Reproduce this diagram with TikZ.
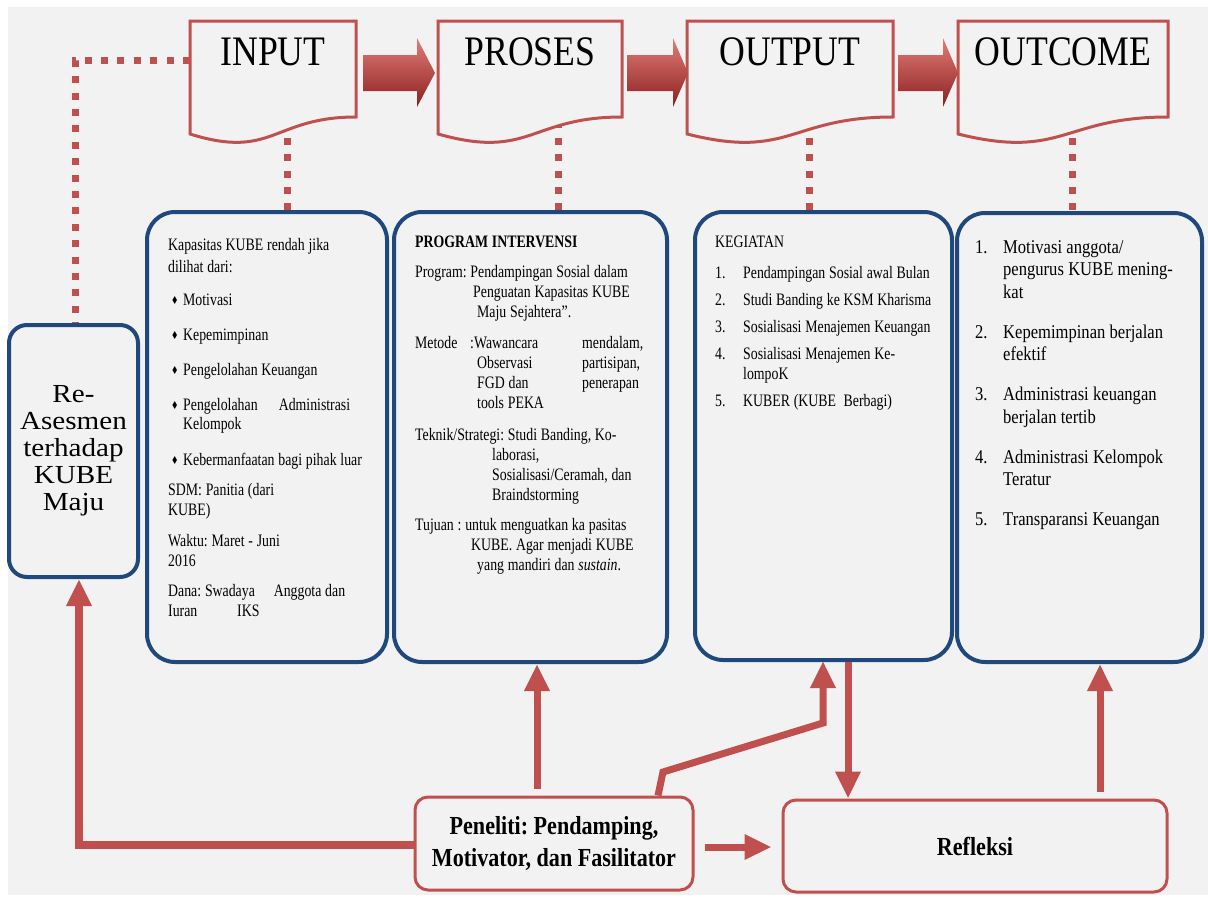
\documentclass[tikz,border=0pt]{standalone}
\usepackage{fontspec}
\setmainfont{Liberation Serif}
\newfontfamily\bodyfont{Liberation Serif}[FakeStretch=0.79]
\newfontfamily\listfont{Liberation Serif}[FakeStretch=0.85]
\newfontfamily\headfont{Liberation Serif}[FakeStretch=0.85]
\newfontfamily\sidefont{Liberation Serif}[FakeStretch=1.12]
\newfontfamily\symfont{DejaVu Sans}
\usetikzlibrary{arrows.meta,calc}

\definecolor{bgcol}{RGB}{242,242,242}
\definecolor{redline}{RGB}{192,80,77}
\definecolor{navy}{RGB}{31,73,125}
\definecolor{arrtop}{RGB}{224,125,120}
\definecolor{arrmid}{RGB}{196,66,60}
\definecolor{arrbot}{RGB}{140,32,30}

% diamond bullet with its hanging indent
\newcommand\bul{\makebox[15pt][l]{\hspace{3pt}\raisebox{0.5pt}{\scalebox{0.75}[1]{\symfont\fontsize{11}{11}\selectfont ♦}}}}
% a line stretched to a fixed width
\newcommand\spreadline[2]{\leavevmode\hbox to #1{#2}}
% narrower word spaces for the condensed faces
\newcommand\tightsp[1]{\frenchspacing\spaceskip=#1 plus 1pt minus 0.5pt\relax}

% document-shaped header: name, left x, right x, top y, label
\newcommand\docshape[5]{%
  \path[docline] (#2,#4) -- (#3,#4) -- (#3,{#4+96})
    .. controls ({(#2+#3)/2},{#4+96}) and ({(#2+#3)/2},{#4+139}) .. (#2,{#4+113}) -- cycle;
  \node[headtxt] (#1) at ({(#2+#3)/2},{#4+44}) {#5};}

% shaded block arrow: shaft left x, head base x, tip x
\newcommand\blockarrow[3]{%
  \shade[top color=arrtop, middle color=arrmid, bottom color=arrbot]
    (#1,55) -- (#2,55) -- (#2,38) -- (#3,73) -- (#2,107) -- (#2,91) -- (#1,91) -- cycle;}

\tikzset{
  docline/.style={draw=redline, line width=3pt, fill=bgcol, line join=miter},
  bluebox/.style={draw=navy, line width=4pt, fill=bgcol, rounded corners=28pt, inner sep=0pt},
  redbox/.style={draw=redline, line width=3pt, fill=bgcol, rounded corners=13pt, inner sep=0pt,
    align=center, font=\listfont\bfseries\fontsize{26}{32}\selectfont},
  dotline/.style={draw=redline, line width=7pt, dash pattern=on 7pt off 9.4pt},
  flow/.style={draw=redline, line width=7pt, line join=miter, -{Triangle[width=24pt,length=27pt]}},
  headtxt/.style={font=\headfont\fontsize{42}{42}\selectfont, anchor=base, inner sep=0pt},
  bodytxt/.style={anchor=base west, inner sep=0pt, text width=#1, align=left},
}

\begin{document}
\begin{tikzpicture}[x=1pt,y=-1pt]
\useasboundingbox (0,0) rectangle (1208,902);
\fill[white] (0,0) rectangle (1208,902);
\fill[bgcol] (8,7) rectangle (1208,895);

% content boxes
\node[bluebox, minimum width=240, minimum height=450] (b1) at (267,437) {};
\node[bluebox, minimum width=273, minimum height=450] (b2) at (530.5,437) {};
\node[bluebox, minimum width=257, minimum height=448] (b3) at (823.5,436) {};
\node[bluebox, minimum width=245, minimum height=449] (b4) at (1079.5,437.5) {};
\node[bluebox, rounded corners=18pt, minimum width=129, minimum height=252, align=center,
      font=\sidefont\fontsize{26}{27}\selectfont] (re) at (73.5,451)
      {Re-\\Asesmen\\terhadap\\KUBE\\Maju};

% dotted links from the headers down to the boxes
\coordinate (din) at (287,105);
\coordinate (dpr) at (558,105);
\coordinate (dou) at (809,105);
\coordinate (doc) at (1072,105);
\coordinate (dl) at (75,60);
\coordinate (dh) at (190,60);
\draw[dotline] (din) -- (din |- b1.north);
\draw[dotline] (dpr) -- (dpr |- b2.north);
\draw[dotline] (dou) -- (dou |- b3.north);
\draw[dotline] (doc) -- (doc |- b4.north);
\draw[dotline] (dh) -- (dl) -- (dl |- re.north);

% headers
\docshape{hin}{190}{356}{21}{INPUT}
\docshape{hpr}{438}{622}{21}{PROSES}
\docshape{hou}{687}{893}{21}{OUTPUT}
\docshape{hoc}{958}{1168}{21}{OUTCOME}

\blockarrow{363}{417}{435}
\blockarrow{627}{673}{688}
\blockarrow{898}{943}{958}

% INPUT box text
\node[bodytxt=230pt, font=\bodyfont\fontsize{17.5}{19.5}\selectfont] (t1) at (168,250) {%
\tightsp{3.8pt}Kapasitas KUBE rendah jika\\[2.5pt]
dilihat dari:\\[13.5pt]
\bul Motivasi\\[15.5pt]
\bul Kepemimpinan\\[15.5pt]
\bul Pengelolahan Keuangan\\[15.5pt]
\spreadline{182pt}{\bul Pengelolahan\hfill Administrasi}\\
\hspace*{15pt}Kelompok\\[16pt]
\bul Kebermanfaatan bagi pihak luar\\[11pt]
SDM: Panitia (dari\\
KUBE)\\[12pt]
Waktu: Maret - Juni\\
2016\\[11pt]
\spreadline{177pt}{Dana: Swadaya\hfill Anggota dan}\\
\makebox[69pt][l]{Iuran}IKS};

% PROSES box text
\node[bodytxt=250pt, font=\bodyfont\fontsize{17.5}{20}\selectfont] (t2) at (415,247) {%
\tightsp{3.8pt}\textbf{PROGRAM INTERVENSI}\\[10pt]
Program: Pendampingan Sosial dalam\\
\hspace*{58pt}Penguatan Kapasitas KUBE\\
\hspace*{62pt}Maju Sejahtera”.\\[11pt]
\makebox[55pt][l]{Metode}\makebox[112pt][l]{:Wawancara}mendalam,\\
\hspace*{62pt}\makebox[105pt][l]{Observasi}partisipan,\\
\hspace*{62pt}\makebox[105pt][l]{FGD dan}penerapan\\
\hspace*{62pt}tools PEKA\\[12pt]
Teknik/Strategi: Studi Banding, Ko-\\
\hspace*{77pt}laborasi,\\
\hspace*{77pt}Sosialisasi/Ceramah, dan\\
\hspace*{77pt}Braindstorming\\[10pt]
Tujuan : untuk menguatkan ka pasitas\\
\hspace*{56pt}KUBE. Agar menjadi KUBE\\
\hspace*{62pt}yang mandiri dan \textit{sustain}.};

% OUTPUT box text
\node[bodytxt=230pt, font=\bodyfont\fontsize{17.5}{20}\selectfont] (t3) at (715,247) {%
\tightsp{3.8pt}KEGIATAN\\[11pt]
\makebox[28pt][l]{1.}Pendampingan Sosial awal Bulan\\[7pt]
\makebox[28pt][l]{2.}Studi Banding ke KSM Kharisma\\[7pt]
\makebox[28pt][l]{3.}Sosialisasi Menajemen Keuangan\\[7pt]
\makebox[28pt][l]{4.}Sosialisasi Menajemen Ke-\\
\hspace*{28pt}lompoK\\[7pt]
\makebox[28pt][l]{5.}KUBER (KUBE\ \ Berbagi)};

% OUTCOME box text
\node[bodytxt=220pt, font=\listfont\fontsize{19.5}{22.5}\selectfont] (t4) at (975,253) {%
\tightsp{4.3pt}\makebox[28pt][l]{1.}Motivasi anggota/\\
\hspace*{28pt}pengurus KUBE mening-\\
\hspace*{28pt}kat\\[17.5pt]
\makebox[28pt][l]{2.}Kepemimpinan berjalan\\
\hspace*{28pt}efektif\\[17.5pt]
\makebox[28pt][l]{3.}Administrasi keuangan\\
\hspace*{28pt}berjalan tertib\\[17.5pt]
\makebox[28pt][l]{4.}Administrasi Kelompok\\
\hspace*{28pt}Teratur\\[17.5pt]
\makebox[28pt][l]{5.}Transparansi Keuangan};

% bottom boxes
\node[redbox, minimum width=278, minimum height=93] (pen) at (554,843.5)
  {\tightsp{5.5pt}Peneliti: Pendamping,\\\tightsp{5.5pt}Motivator, dan Fasilitator};
\node[redbox, minimum width=384, minimum height=92] (ref) at (975,846) {Refleksi};

% connectors from the researcher and the reflection
\coordinate (lc) at (79,845);
\coordinate (k1) at (658,0);
\coordinate (k2) at (848,0);
\coordinate (k3) at (1100,0);
\coordinate (k4) at (0,847);
\coordinate (kp) at (537,0);
\draw[flow, line width=8pt] (pen.west |- lc) -- (lc) -- (re.south -| lc);
\draw[flow, shorten <=7pt] (pen.north -| kp) -- (b2.south -| kp);
\draw[flow] (pen.north -| k1) -- (663,772) -- (823,723) -- (823,661);
\draw[flow] (b3.south -| k2) -- (ref.north -| k2);
\draw[flow, shorten <=7pt] (ref.north -| k3) -- (b4.south -| k3);
\draw[flow, shorten <=10pt, shorten >=10pt] (pen.east |- k4) -- (ref.west |- k4);
\end{tikzpicture}
\end{document}
